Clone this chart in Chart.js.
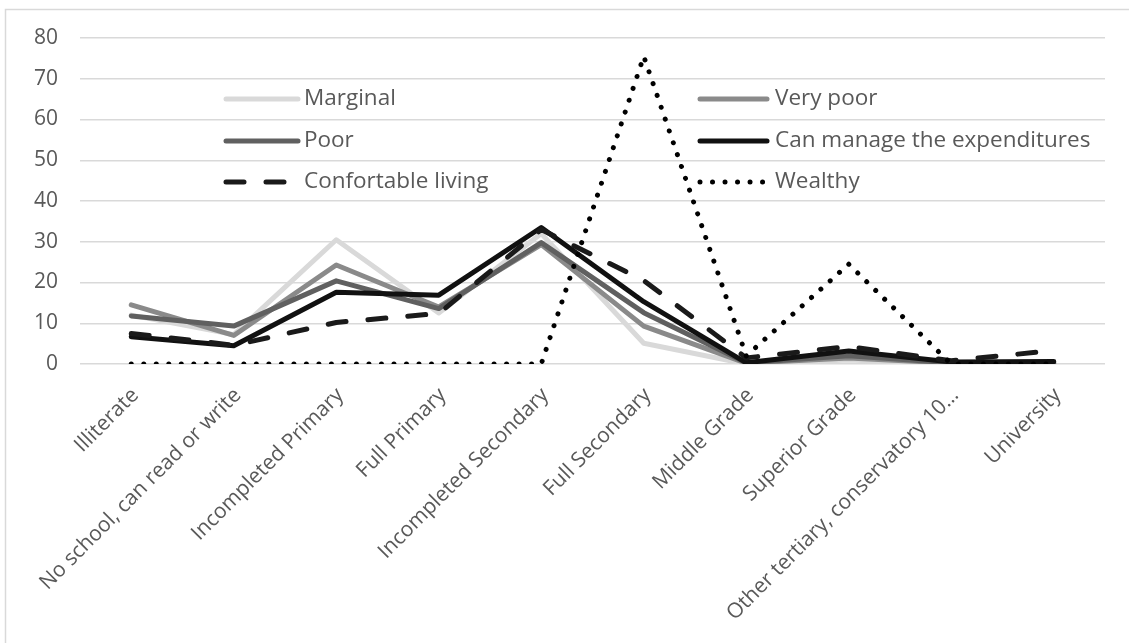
<!DOCTYPE html>
<html>
<head>
<meta charset="utf-8">
<script src="https://cdn.jsdelivr.net/npm/chart.js@4"></script>
<style>
  html, body { margin: 0; padding: 0; background: #fff; }
  #wrap { width: 1129px; height: 643px; }
</style>
</head>
<body>
<div id="wrap"><canvas id="eduChart" width="1129" height="643"></canvas></div>
<script>
// categories along the x axis
const categories = [
  'Illiterate',
  'No school, can read or write',
  'Incompleted Primary',
  'Full Primary',
  'Incompleted Secondary',
  'Full Secondary',
  'Middle Grade',
  'Superior Grade',
  'Other tertiary, conservatory 10\u2026',
  'University'
];

// percentages per group
const marginal    = [12, 7.2, 30.5, 12.5, 32, 5.1, 0, 1, 0, 0];
const veryPoor    = [14.5, 7, 24.3, 14, 29.3, 9.3, 0.2, 1.5, 0.2, 0];
const poor        = [11.8, 9.3, 20.4, 13.6, 29.8, 12.6, 0.3, 2, 0.3, 0.3];
const canManage   = [6.7, 4.5, 17.6, 16.9, 33.5, 15.3, 0.3, 3.2, 0.5, 0.6];
const confortable = [7.5, 4.6, 10.2, 12.4, 33, 20.5, 1.5, 4.3, 0.8, 3.3];
const wealthy     = [0, 0, 0, 0, 0, 75.5, 2, 24.5, 0, 0];

const yTicks = [0, 10, 20, 30, 40, 50, 60, 70, 80];

const FONT = '"Open Sans", "DejaVu Sans", sans-serif';
const TEXT = '#595959';
const DASH = [18, 22];
const DOTS = [0.01, 12.5];

// draw order: lower "order" ends up on top
const datasets = [
  { label: 'Marginal', data: marginal, borderColor: '#d9d9d9', order: 5, borderDash: [] },
  { label: 'Very poor', data: veryPoor, borderColor: '#8a8a8a', order: 4, borderDash: [] },
  { label: 'Poor', data: poor, borderColor: '#606060', order: 3, borderDash: [] },
  { label: 'Can manage the expenditures', data: canManage, borderColor: '#111111', order: 2, borderDash: [] },
  { label: 'Confortable living', data: confortable, borderColor: '#1a1a1a', order: 1, borderDash: DASH },
  { label: 'Wealthy', data: wealthy, borderColor: '#000000', order: 0, borderDash: DOTS }
].map(d => Object.assign(d, {
  borderWidth: 5,
  pointRadius: 0,
  tension: 0,
  fill: false,
  borderCapStyle: 'round',
  borderJoinStyle: 'round'
}));

// legend positions inside the plot, two columns, three rows
const legendCols = [{ x1: 226, x2: 298, tx: 304 }, { x1: 700, x2: 767, tx: 775 }];
const legendRows = [99, 141, 182];

const boxAndLegend = {
  id: 'boxAndLegend',
  beforeDraw(chart) {
    const ctx = chart.ctx;
    ctx.save();
    ctx.strokeStyle = '#d9d9d9';
    ctx.lineWidth = 1.5;
    ctx.strokeRect(5.5, 9.5, 1300, 800);
    ctx.restore();
  },
  afterDatasetsDraw(chart) {
    const ctx = chart.ctx;
    ctx.save();
    chart.data.datasets.forEach((ds, i) => {
      const col = legendCols[i % 2];
      const y = legendRows[Math.floor(i / 2)];
      ctx.beginPath();
      ctx.strokeStyle = ds.borderColor;
      ctx.lineWidth = ds.borderWidth;
      ctx.lineCap = 'round';
      ctx.setLineDash(ds.borderDash);
      ctx.moveTo(col.x1, y);
      ctx.lineTo(col.x2, y);
      ctx.stroke();
      ctx.setLineDash([]);
      ctx.fillStyle = TEXT;
      ctx.font = '22.5px ' + FONT;
      ctx.textAlign = 'left';
      ctx.textBaseline = 'middle';
      ctx.fillText(ds.label, col.tx, y);
    });
    ctx.restore();
  }
};

new Chart(document.getElementById('eduChart'), {
  type: 'line',
  data: { labels: categories, datasets: datasets },
  options: {
    responsive: false,
    animation: false,
    layout: { padding: { left: 5, top: 38, right: 24, bottom: 0 } },
    plugins: { legend: { display: false }, tooltip: { enabled: false } },
    scales: {
      x: {
        offset: true,
        grid: { display: false, drawTicks: false },
        border: { display: false },
        ticks: {
          color: TEXT,
          font: { family: FONT, size: 21 },
          minRotation: 45,
          maxRotation: 45,
          autoSkip: false,
          padding: 19,
          labelOffset: 4
        },
        afterFit(s) { s.height = 643 - 364; }
      },
      y: {
        min: 0,
        max: 80,
        afterBuildTicks(s) { s.ticks = yTicks.map(v => ({ value: v })); },
        grid: { color: '#d9d9d9', lineWidth: 1.5, drawTicks: false },
        border: { display: false },
        ticks: {
          color: TEXT,
          font: { family: FONT, size: 21 },
          padding: 22
        },
        afterFit(s) { s.width = 75; }
      }
    }
  },
  plugins: [boxAndLegend]
});
</script>
</body>
</html>
